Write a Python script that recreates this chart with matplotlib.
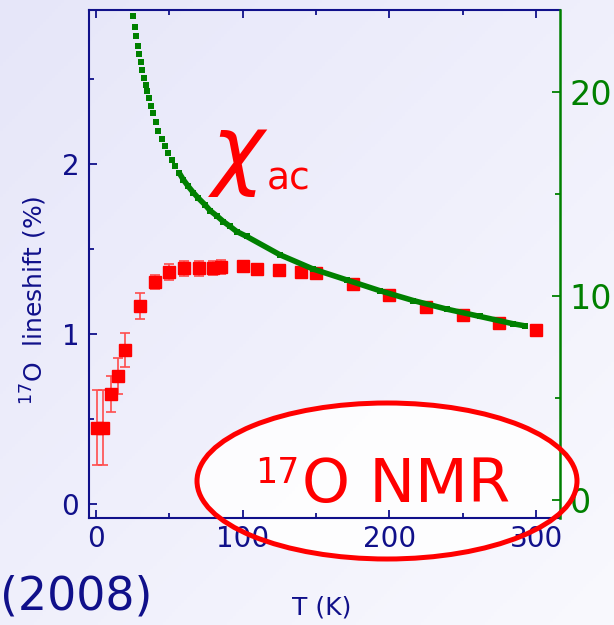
import numpy as np
import matplotlib
matplotlib.use("Agg")
import matplotlib.pyplot as plt
from matplotlib.patches import Ellipse
from matplotlib.ticker import MultipleLocator

# ---- data ----
T_nmr = [0.5, 5, 10, 15, 20, 30, 40, 50, 60, 70, 80, 85, 100, 110, 125, 140, 150,
         175, 200, 225, 250, 275, 300]
shift = [0.45, 0.45, 0.647, 0.753, 0.906, 1.165, 1.306, 1.365, 1.386, 1.386, 1.387,
         1.396, 1.40, 1.38, 1.376, 1.366, 1.357, 1.292, 1.229, 1.161, 1.112, 1.067, 1.024]
shift_err = [0.22, 0.22, 0.105, 0.105, 0.10, 0.077, 0.04, 0.045, 0.042, 0.042, 0.042,
             0.04, 0, 0, 0, 0, 0, 0, 0, 0, 0, 0, 0]

T_chi = [25.4, 26.4, 27.3, 28.4, 29.5, 30.5, 31.6, 32.7, 33.9, 35.0, 36.3, 37.5, 39.1,
         40.7, 42.5, 44.8, 47.0, 49.3, 51.6, 53.9, 56.8, 59.5, 62.9, 66.3, 69.7, 74.3,
         77.7, 82.3, 86.8, 91.4, 95.9, 102.7, 125.4, 148.1, 170.9, 193.6, 216.3, 239.1,
         261.8, 284.5, 292.4]
chi_ac = [23.69, 23.17, 22.71, 22.25, 21.85, 21.44, 21.04, 20.67, 20.34, 20.01, 19.69,
          19.31, 18.96, 18.50, 18.05, 17.68, 17.32, 17.0, 16.67, 16.34, 16.01, 15.69,
          15.36, 15.06, 14.79, 14.46, 14.18, 13.92, 13.64, 13.40, 13.15, 12.91, 12.01,
          11.31, 10.78, 10.25, 9.77, 9.35, 8.99, 8.63, 8.53]

x_ticks = [0, 100, 200, 300]
y_ticks = [0, 1, 2]
y2_ticks = [0, 10, 20]

navy = "#10108a"
green = "#008000"
red = "#ff0000"

W, H = 614, 625
fig = plt.figure(figsize=(W / 100, H / 100), dpi=100)

# background gradient
bg = fig.add_axes([0, 0, 1, 1], zorder=-10)
bg.axis("off")
yy, xx = np.mgrid[0:1:200j, 0:1:200j]
t = (xx + yy) / 2.0
c0 = np.array([230, 230, 249]) / 255.0
c1 = np.array([249, 249, 254]) / 255.0
img = c0[None, None, :] * (1 - t[..., None]) + c1[None, None, :] * t[..., None]
bg.imshow(img, extent=[0, 1, 0, 1], aspect="auto", origin="upper")
bg.set_xlim(0, 1)
bg.set_ylim(0, 1)

def fx(px):
    return px / W

def fy(py):
    return 1 - py / H

# ellipse fill (below axes)
ell_fill = Ellipse((fx(387), fy(481)), 380 / W, 156 / H, transform=fig.transFigure,
                   facecolor="white", edgecolor="none", alpha=0.85, zorder=-5)
fig.add_artist(ell_fill)

ax = fig.add_axes([fx(89), fy(518), (560 - 89) / W, (518 - 10) / H])
ax.set_facecolor("none")
ax2 = ax.twinx()
ax2.set_facecolor("none")

ax.errorbar(T_nmr, shift, yerr=shift_err, fmt="s", color=red, ms=8, mec=red,
            ecolor=(1, 0.3, 0.3), elinewidth=1.2, capsize=3.5, capthick=1.2, zorder=3)

k = 20
ax2.plot(T_chi, chi_ac, "s", color=green, ms=4.5, mew=0)
ax2.plot(T_chi[k:], chi_ac[k:], "-", color=green, lw=4, solid_capstyle="butt")

ax.set_xlim(-4.8, 316.3)
ax.set_ylim(-0.082, 2.906)
ax2.set_ylim(-0.88, 24.0)

ax.set_xticks(x_ticks)
ax.set_yticks(y_ticks)
ax2.set_yticks(y2_ticks)
ax.xaxis.set_minor_locator(MultipleLocator(50))
ax.yaxis.set_minor_locator(MultipleLocator(0.5))
ax2.yaxis.set_minor_locator(MultipleLocator(5))

for s in ["left", "bottom", "top"]:
    ax.spines[s].set_color(navy)
    ax.spines[s].set_linewidth(1.5)
    ax2.spines[s].set_visible(False)
ax.spines["right"].set_visible(False)
ax2.spines["right"].set_color(green)
ax2.spines["right"].set_linewidth(1.8)

ax.tick_params(which="both", direction="in", colors=navy, top=True, right=False,
               labelsize=20, width=1.3)
ax.tick_params(which="major", length=6)
ax.tick_params(which="minor", length=3.5)
ax.tick_params(axis="y", pad=7)
ax.tick_params(axis="x", pad=5)
ax2.tick_params(which="both", direction="in", colors=green, labelsize=24, width=1.3,
                pad=7)
ax2.tick_params(which="major", length=6)
ax2.tick_params(which="minor", length=3.5)

# labels
fig.text(fx(34), fy(300), r"$^{17}$O  lineshift (%)", rotation=90, ha="center",
         va="center", fontsize=18, color=navy)
fig.text(fx(322), fy(608), "T (K)", ha="center", va="center", fontsize=18, color=navy)
fig.text(fx(0), fy(610), "(2008)", ha="left", va="baseline", fontsize=33, color=navy)

# chi_ac label
fig.text(fx(208), fy(178), r"$\chi$", ha="left", va="baseline", fontsize=64, color=red)
fig.text(fx(267), fy(189), "ac", ha="left", va="baseline", fontsize=27, color=red)

# ellipse outline and NMR label (on top)
ell = Ellipse((fx(387), fy(481)), 380 / W, 156 / H, transform=fig.transFigure,
              facecolor="none", edgecolor=red, lw=3.6, zorder=5)
fig.add_artist(ell)
fig.text(fx(255), fy(483), "17", ha="left", va="baseline", fontsize=25, color=red,
         zorder=6)
fig.text(fx(302), fy(502), "O NMR", ha="left", va="baseline", fontsize=44, color=red,
         zorder=6)

fig.savefig("out.png", dpi=100)
